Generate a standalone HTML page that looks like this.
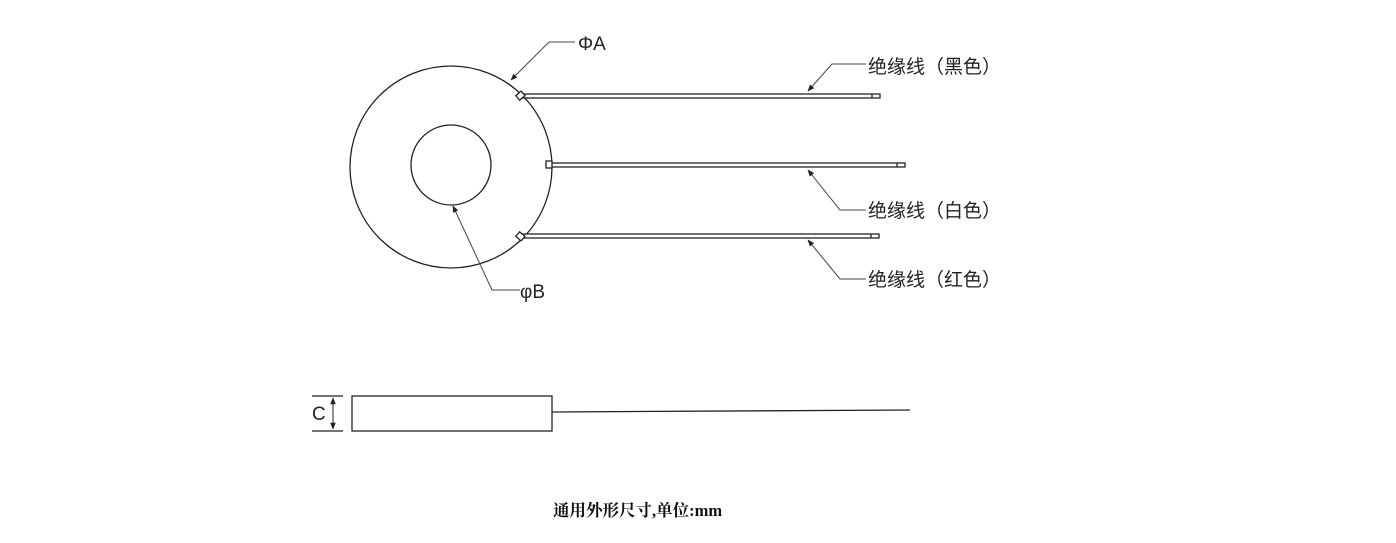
<!DOCTYPE html>
<html><head><meta charset="utf-8"><style>
html,body{margin:0;padding:0;background:#fff;width:1396px;height:543px;overflow:hidden}
</style></head><body>
<svg width="1396" height="543" xmlns="http://www.w3.org/2000/svg" style="position:absolute;left:0;top:0">
<defs><marker id="a" viewBox="0 0 10 10" refX="9" refY="5" markerWidth="7" markerHeight="7" orient="auto-start-reverse"><path d="M0,1 L10,5 L0,9 z" fill="#222"/></marker></defs>
<g fill="none" stroke="#222" stroke-width="1.3">
<circle cx="451" cy="167" r="101"/>
<circle cx="451" cy="165" r="40"/>
<rect x="522" y="94" width="358" height="4" fill="#fff"/>
<line x1="872" y1="94" x2="872" y2="98"/>
<rect x="551" y="163" width="354" height="4" fill="#fff"/>
<line x1="897" y1="163" x2="897" y2="167"/>
<rect x="522" y="234" width="357" height="4" fill="#fff"/>
<line x1="871" y1="234" x2="871" y2="238"/>
<rect x="517" y="93" width="7" height="6" fill="#fff" transform="rotate(-40 520 96)"/>
<rect x="546" y="161" width="6" height="7" fill="#fff"/>
<rect x="517" y="233" width="7" height="6" fill="#fff" transform="rotate(40 520 236)"/>
</g>
<g fill="none" stroke="#444" stroke-width="1">
<polyline points="575,42 549,42 511,80" marker-end="url(#a)"/>
<polyline points="866,64 832,64 808,91" marker-end="url(#a)"/>
<polyline points="866,210 840,210 808,170" marker-end="url(#a)"/>
<polyline points="866,279 840,279 808,240" marker-end="url(#a)"/>
<polyline points="520,290 492,290 453,206" marker-end="url(#a)"/>
</g>
<g stroke="#222" stroke-width="1.3" fill="none">
<rect x="352" y="396" width="200" height="35"/>
<line x1="552" y1="412" x2="910" y2="410"/>
<line x1="312" y1="396" x2="343" y2="396"/>
<line x1="312" y1="431" x2="343" y2="431"/>
<line x1="333" y1="398" x2="333" y2="429" stroke-width="1" marker-start="url(#a)" marker-end="url(#a)"/>
</g>
<g font-family="'Liberation Sans','Noto Sans CJK SC',sans-serif" font-size="19" fill="#222">
<text x="578" y="50">ΦA</text>
<text x="868" y="73">绝缘线（黑色）</text>
<text x="868" y="217">绝缘线（白色）</text>
<text x="868" y="286">绝缘线（红色）</text>
<text x="520" y="298">φB</text>
<text x="312" y="420">C</text>
</g>
<text x="553" y="516" font-family="'Liberation Serif','Noto Serif CJK SC',serif" font-size="16.5" font-weight="bold" fill="#111">通用外形尺寸,单位:mm</text>
</svg>
</body></html>
